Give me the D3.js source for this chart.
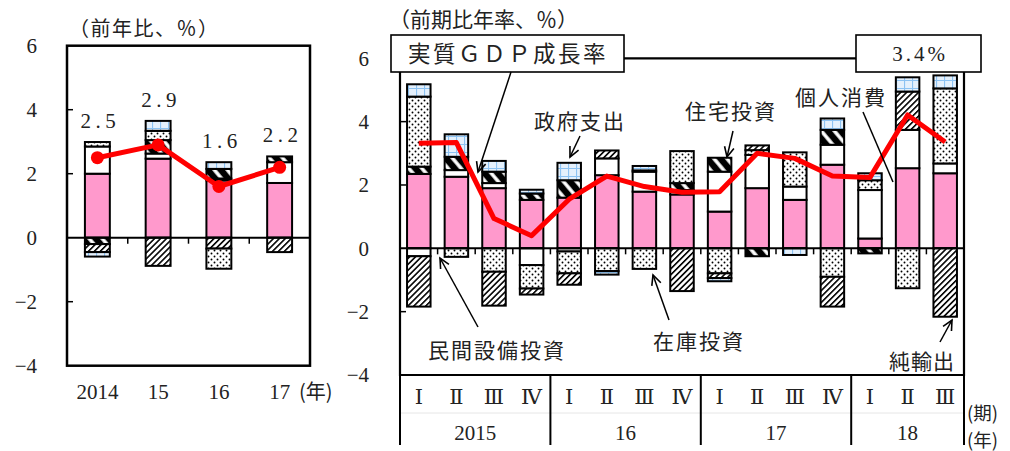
<!DOCTYPE html>
<html lang="ja">
<head>
<meta charset="UTF-8">
<script src="https://d3js.org/d3.v7.min.js"></script>
<style>
  body { margin: 0; background: #fff; }
  svg { display: block; }
</style>
</head>
<body>
<script>
// ---- data ----
const seriesNames = ["個人消費", "民間設備投資", "住宅投資", "在庫投資", "純輸出", "政府支出"];

// left panel: calendar years (前年比)
const annualYears = ["2014", "15", "16", "17"];
const annualConsumption = [2.0, 2.47, 1.79, 1.71];
const annualCapex = [0.85, 0.16, 0.06, 0.65];
const annualHousing = [-0.2, 0.42, 0.30, 0.18];
const annualInventory = [0.14, 0.29, -0.63, 0];
const annualNetExports = [-0.25, -0.88, -0.34, -0.45];
const annualGovernment = [-0.14, 0.31, 0.21, 0];
const annualGdp = [2.5, 2.9, 1.6, 2.2];

// right panel: quarters (前期比年率)
const quarterKeys = ["15Q1", "15Q2", "15Q3", "15Q4", "16Q1", "16Q2", "16Q3", "16Q4",
                     "17Q1", "17Q2", "17Q3", "17Q4", "18Q1", "18Q2", "18Q3"];
const quarterLabels = ["Ⅰ", "Ⅱ", "Ⅲ", "Ⅳ", "Ⅰ", "Ⅱ", "Ⅲ", "Ⅳ", "Ⅰ", "Ⅱ", "Ⅲ", "Ⅳ", "Ⅰ", "Ⅱ", "Ⅲ"];
const yearLabels = ["2015", "16", "17", "18"];
const qConsumption = [2.35, 2.26, 1.90, 1.53, 1.60, 2.31, 1.79, 1.70, 1.16, 1.90, 1.53, 2.64, 0.31, 2.53, 2.37];
const qCapex = [-0.25, 0.21, 0.16, -0.53, -0.10, 0.53, 0.63, 0.14, 1.26, 1.05, 0.42, 0.63, 1.53, 1.21, 0.31];
const qHousing = [0.23, 0.42, 0.36, 0.20, 0.55, 0, 0.04, 0.22, 0.44, -0.25, 0, 0.47, -0.16, 0, 0];
const qInventory = [2.21, -0.27, -0.74, -0.74, -0.69, -0.72, -0.65, 1.01, -0.79, 0.15, 1.08, -0.90, 0.31, -1.26, 2.37];
const qNetExports = [-1.59, 0, -1.07, -0.19, -0.36, 0.25, 0, -1.35, -0.15, 0.15, 0, -0.94, 0, 1.21, -2.16];
const qGovernment = [0.39, 0.71, 0.34, 0.12, 0.55, -0.11, 0.14, 0, -0.10, 0, -0.21, 0.36, 0.22, 0.45, 0.41];
const qGdp = [3.32, 3.34, 0.94, 0.40, 1.55, 2.28, 1.95, 1.77, 1.79, 3.00, 2.84, 2.28, 2.24, 4.21, 3.36];
const lastGdpLabel = "3.4%";

const yTicks = [-4, -2, 0, 2, 4, 6];

// ---- setup ----
const width = 1010, height = 451;
const svg = d3.select('body').append('svg')
    .attr('width', width)
    .attr('height', height);
svg.append('rect').attr('width', width).attr('height', height).attr('fill', '#fff');

const serif = "'Liberation Serif', 'DejaVu Serif', serif";
const jp = "'Noto Sans CJK JP', sans-serif";
const textColor = '#222';

// patterns
const defs = svg.append('defs');
const pDot = defs.append('pattern').attr('id', 'pDot')
    .attr('patternUnits', 'userSpaceOnUse').attr('width', 6).attr('height', 6);
pDot.append('rect').attr('width', 6).attr('height', 6).attr('fill', '#fff');
pDot.append('circle').attr('cx', 1.5).attr('cy', 1.5).attr('r', 0.95).attr('fill', '#000');
pDot.append('circle').attr('cx', 4.5).attr('cy', 4.5).attr('r', 0.95).attr('fill', '#000');

const pHatch = defs.append('pattern').attr('id', 'pHatch')
    .attr('patternUnits', 'userSpaceOnUse').attr('width', 4.2).attr('height', 4.2)
    .attr('patternTransform', 'rotate(45)');
pHatch.append('rect').attr('width', 4.2).attr('height', 4.2).attr('fill', '#fff');
pHatch.append('line').attr('x1', 0.8).attr('y1', 0).attr('x2', 0.8).attr('y2', 4.2)
    .attr('stroke', '#000').attr('stroke-width', 1.6);

const pHouse = defs.append('pattern').attr('id', 'pHouse')
    .attr('patternUnits', 'userSpaceOnUse').attr('width', 10).attr('height', 10)
    .attr('patternTransform', 'rotate(-40)');
pHouse.append('rect').attr('width', 10).attr('height', 10).attr('fill', '#000');
pHouse.append('line').attr('x1', 5).attr('y1', 0).attr('x2', 5).attr('y2', 10)
    .attr('stroke', '#fff').attr('stroke-width', 3.5);

const pGov = defs.append('pattern').attr('id', 'pGov')
    .attr('patternUnits', 'userSpaceOnUse').attr('width', 8).attr('height', 8);
pGov.append('rect').attr('width', 8).attr('height', 8).attr('fill', '#e4f0fc');
pGov.append('path').attr('d', 'M0,0H8M0,0V8').attr('stroke', '#8cc2f2').attr('stroke-width', 2.2);

const fills = {
    "個人消費": '#ff99cc',
    "民間設備投資": '#ffffff',
    "住宅投資": 'url(#pHouse)',
    "在庫投資": 'url(#pDot)',
    "純輸出": 'url(#pHatch)',
    "政府支出": 'url(#pGov)'
};

function buildRows(keys, cols) {
    return keys.map((k, i) => {
        const row = { key: k };
        seriesNames.forEach((s, j) => { row[s] = cols[j][i]; });
        return row;
    });
}

function drawStacks(g, rows, order, x, y) {
    const stack = d3.stack().keys(order).offset(d3.stackOffsetDiverging);
    const layers = stack(rows);
    g.selectAll('g.layer')
        .data(layers)
        .enter().append('g')
        .attr('class', 'layer')
        .attr('fill', d => fills[d.key])
        .selectAll('rect')
        .data(d => d.filter(p => Math.abs(p[1] - p[0]) > 0.005))
        .enter().append('rect')
        .attr('x', d => x(d.data.key))
        .attr('width', x.bandwidth())
        .attr('y', d => y(Math.max(d[0], d[1])))
        .attr('height', d => Math.abs(y(d[0]) - y(d[1])))
        .attr('stroke', '#000')
        .attr('stroke-width', 2);
    return layers;
}

function yAxisLabels(y, xRight) {
    svg.append('g').selectAll('text')
        .data(yTicks)
        .enter().append('text')
        .attr('x', xRight)
        .attr('y', d => y(d))
        .attr('dy', '0.35em')
        .attr('text-anchor', 'end')
        .attr('font-family', serif)
        .attr('font-size', 21)
        .attr('fill', textColor)
        .text(d => d < 0 ? '\u2212' + Math.abs(d) : d);
}

function innerTicks(y, x0) {
    svg.append('g').selectAll('line')
        .data(yTicks.filter(t => t > -4 && t < 6 && t !== 0))
        .enter().append('line')
        .attr('x1', x0).attr('x2', x0 + 6)
        .attr('y1', d => y(d)).attr('y2', d => y(d))
        .attr('stroke', '#000').attr('stroke-width', 1.5);
}

function catTicks(x, y, keys) {
    const gap = (x.step() - x.bandwidth()) / 2;
    svg.append('g').selectAll('line')
        .data(keys.slice(1))
        .enter().append('line')
        .attr('x1', d => x(d) - gap).attr('x2', d => x(d) - gap)
        .attr('y1', y(0)).attr('y2', y(0) + 6)
        .attr('stroke', '#000').attr('stroke-width', 1.5);
}

function arrow(x1, y1, x2, y2, head) {
    svg.append('line')
        .attr('x1', x1).attr('y1', y1).attr('x2', x2).attr('y2', y2)
        .attr('stroke', '#000').attr('stroke-width', 1.5);
    if (head) {
        const a = Math.atan2(y2 - y1, x2 - x1), L = 11, s = 0.45;
        const p1 = [x2 - L * Math.cos(a - s), y2 - L * Math.sin(a - s)];
        const p2 = [x2 - L * Math.cos(a + s), y2 - L * Math.sin(a + s)];
        svg.append('path')
            .attr('d', `M${p1[0]},${p1[1]}L${x2},${y2}L${p2[0]},${p2[1]}`)
            .attr('fill', 'none').attr('stroke', '#000').attr('stroke-width', 1.6);
    }
}

function jpText(x, y, str, size, anchor) {
    return svg.append('text')
        .attr('x', x).attr('y', y)
        .attr('dy', '0.36em')
        .attr('text-anchor', anchor || 'middle')
        .attr('font-family', jp)
        .attr('font-size', size)
        .attr('fill', textColor)
        .text(str);
}

// ---- left panel ----
const xL = d3.scaleBand().domain(annualYears).range([67, 310]).paddingInner(0.59).paddingOuter(0.295);
const yL = d3.scaleLinear().domain([-4, 6]).range([365.7, 45.7]);

const annualRows = buildRows(annualYears,
    [annualConsumption, annualCapex, annualHousing, annualInventory, annualNetExports, annualGovernment]);
const leftOrder = ["個人消費", "民間設備投資", "住宅投資", "純輸出", "在庫投資", "政府支出"];
const gL = svg.append('g');
drawStacks(gL, annualRows, leftOrder, xL, yL);

svg.append('line').attr('x1', 67).attr('x2', 310).attr('y1', yL(0)).attr('y2', yL(0))
    .attr('stroke', '#000').attr('stroke-width', 2);
catTicks(xL, yL, annualYears);
innerTicks(yL, 67);
svg.append('rect').attr('x', 67).attr('y', yL(6)).attr('width', 243).attr('height', yL(-4) - yL(6))
    .attr('fill', 'none').attr('stroke', '#000').attr('stroke-width', 2.5);

const lineL = d3.line().x((d, i) => xL(annualYears[i]) + xL.bandwidth() / 2).y(d => yL(d));
svg.append('path').datum(annualGdp).attr('d', lineL)
    .attr('fill', 'none').attr('stroke', '#ff0000').attr('stroke-width', 5).attr('stroke-linejoin', 'round');
svg.append('g').selectAll('circle').data(annualGdp).enter().append('circle')
    .attr('cx', (d, i) => xL(annualYears[i]) + xL.bandwidth() / 2)
    .attr('cy', d => yL(d)).attr('r', 6.5).attr('fill', '#ff0000');

// value labels above bars
const topL = annualRows.map(r => d3.sum(seriesNames, s => Math.max(0, r[s])));
svg.append('g').selectAll('text').data(annualGdp).enter().append('text')
    .attr('x', (d, i) => xL(annualYears[i]) + xL.bandwidth() / 2 + 3)
    .attr('y', (d, i) => yL(topL[i]) - 14)
    .attr('text-anchor', 'middle')
    .attr('font-family', serif).attr('font-size', 21)
    .attr('letter-spacing', 4.5)
    .attr('fill', textColor)
    .text(d => d.toFixed(1));

yAxisLabels(yL, 37);
svg.append('g').selectAll('text').data(annualYears).enter().append('text')
    .attr('x', d => xL(d) + xL.bandwidth() / 2)
    .attr('y', 392).attr('dy', '0.35em')
    .attr('text-anchor', 'middle')
    .attr('font-family', serif).attr('font-size', 21)
    .attr('fill', textColor)
    .text(d => d);
jpText(299, 392, '(年)', 20, 'start');
jpText(69, 29, '（前年比、％）', 20, 'start').attr('letter-spacing', 1.5);

// ---- right panel ----
const xR = d3.scaleBand().domain(quarterKeys).range([400, 964]).paddingInner(0.375).paddingOuter(0.1875);
const yR = d3.scaleLinear().domain([-4, 6]).range([375, 58.3]);

const quarterRows = buildRows(quarterKeys,
    [qConsumption, qCapex, qHousing, qInventory, qNetExports, qGovernment]);
const gR = svg.append('g');
drawStacks(gR, quarterRows, seriesNames, xR, yR);

svg.append('line').attr('x1', 400).attr('x2', 964).attr('y1', yR(0)).attr('y2', yR(0))
    .attr('stroke', '#000').attr('stroke-width', 2);
catTicks(xR, yR, quarterKeys);
innerTicks(yR, 400);
// frame
svg.append('path')
    .attr('d', `M400,${yR(6)}H964V${yR(-4)}H400Z`)
    .attr('fill', 'none').attr('stroke', '#000').attr('stroke-width', 2.2);

const lineR = d3.line().x((d, i) => xR(quarterKeys[i]) + xR.bandwidth() / 2).y(d => yR(d));
svg.append('path').datum(qGdp).attr('d', lineR)
    .attr('fill', 'none').attr('stroke', '#ff0000').attr('stroke-width', 5).attr('stroke-linejoin', 'round');

yAxisLabels(yR, 369);

// bottom table
const gap = (xR.step() - xR.bandwidth()) / 2;
svg.append('line').attr('x1', 400).attr('x2', 964).attr('y1', 413).attr('y2', 413)
    .attr('stroke', '#e6e6e6').attr('stroke-width', 1);
const groupEdges = yearLabels.map((yl, i) => {
    const ks = quarterKeys.slice(i * 4, i * 4 + 4);
    return [xR(ks[0]) - gap, xR(ks[ks.length - 1]) + xR.bandwidth() + gap];
});
const sepX = [groupEdges[0][0]].concat(groupEdges.map(e => e[1]));
svg.append('g').selectAll('line').data(sepX).enter().append('line')
    .attr('x1', d => d).attr('x2', d => d).attr('y1', yR(-4)).attr('y2', 445)
    .attr('stroke', '#000').attr('stroke-width', 2);
svg.append('g').selectAll('text').data(quarterKeys).enter().append('text')
    .attr('x', d => xR(d) + xR.bandwidth() / 2)
    .attr('y', 397).attr('dy', '0.35em')
    .attr('text-anchor', 'middle')
    .attr('font-family', serif).attr('font-size', 21)
    .attr('fill', textColor)
    .text((d, i) => quarterLabels[i]);
svg.append('g').selectAll('text').data(yearLabels).enter().append('text')
    .attr('x', (d, i) => (groupEdges[i][0] + groupEdges[i][1]) / 2)
    .attr('y', 433).attr('dy', '0.35em')
    .attr('text-anchor', 'middle')
    .attr('font-family', serif).attr('font-size', 21)
    .attr('fill', textColor)
    .text(d => d);
jpText(967, 413, '(期)', 18.5, 'start');
jpText(967, 440, '(年)', 18.5, 'start');

jpText(389, 19, '（前期比年率、％）', 21, 'start');

// GDP box and last-value box
svg.append('rect').attr('x', 391).attr('y', 35).attr('width', 233).attr('height', 37)
    .attr('fill', '#fff').attr('stroke', '#000').attr('stroke-width', 1.6);
jpText(508, 54, '実質ＧＤＰ成長率', 22.5).attr('letter-spacing', 2.5);
svg.append('rect').attr('x', 856).attr('y', 35).attr('width', 125).attr('height', 37)
    .attr('fill', '#fff').attr('stroke', '#000').attr('stroke-width', 1.6);
svg.append('text')
    .attr('x', 920).attr('y', 54).attr('dy', '0.35em')
    .attr('text-anchor', 'middle')
    .attr('font-family', serif).attr('font-size', 21)
    .attr('letter-spacing', 3)
    .attr('fill', textColor)
    .text(lastGdpLabel);

// callouts
arrow(511, 72, 478, 172, true);
jpText(580, 121, '政府支出', 21).attr('letter-spacing', 2);
arrow(580, 136, 570, 157, true);
jpText(731, 111, '住宅投資', 21).attr('letter-spacing', 2);
arrow(733, 131, 727, 157, true);
jpText(841, 97, '個人消費', 21).attr('letter-spacing', 2);
arrow(863, 112, 893, 182, false);
jpText(497, 350, '民間設備投資', 21).attr('letter-spacing', 2);
arrow(478, 327, 440, 258, true);
jpText(699, 341, '在庫投資', 21).attr('letter-spacing', 2);
arrow(669, 320, 653, 275, true);
jpText(922, 361, '純輸出', 21).attr('letter-spacing', 1);
arrow(940, 342, 952, 320, true);
</script>
</body>
</html>
